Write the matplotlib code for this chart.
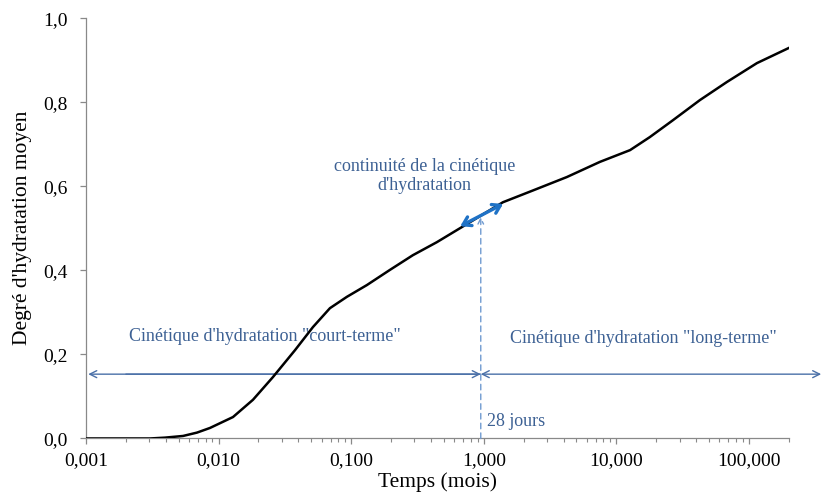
import matplotlib
matplotlib.use("Agg")
import matplotlib.pyplot as plt
from matplotlib.ticker import FixedLocator, FuncFormatter, LogLocator, NullFormatter

# courbe (temps en mois, degre d'hydratation)
temps = [0.001, 0.002, 0.00304, 0.00394, 0.0054, 0.00688, 0.00861, 0.01285, 0.01817,
         0.0257, 0.0377, 0.0515, 0.0692, 0.0929, 0.1315, 0.196, 0.292, 0.443,
         0.685, 1.396, 2.35, 4.24, 7.52, 12.7, 17.9, 26.7, 42.7, 68.2, 115.0, 200.0]
degre = [0.0, 0.0, 0.0, 0.002, 0.006, 0.014, 0.025, 0.051, 0.092,
         0.146, 0.210, 0.265, 0.310, 0.337, 0.365, 0.401, 0.436, 0.467,
         0.503, 0.562, 0.590, 0.622, 0.658, 0.686, 0.717, 0.757, 0.805, 0.848, 0.893, 0.929]

x_ticks = [0.001, 0.01, 0.1, 1, 10, 100]
y_ticks = [0.0, 0.2, 0.4, 0.6, 0.8, 1.0]

t_28j = 0.95          # 28 jours en mois
y_fleche = 0.153      # hauteur des fleches horizontales
y_pointe = 0.527      # sommet de la ligne pointillee
continuite = [(0.665, 0.505), (1.40, 0.558)]

txt_bleu = "#3d6194"
fl_bleu = "#4a70a8"
pt_bleu = "#6f9ad0"
vif_bleu = "#1f72c6"
gris = "#898989"

plt.rcParams['font.family'] = ['Liberation Serif', 'DejaVu Serif']

fig = plt.figure(figsize=(8.22, 5.01), dpi=100)
ax = fig.add_axes([0.1046, 0.1248, 0.855, 0.839])

ax.plot(temps, degre, color="black", lw=1.8, zorder=5, solid_joinstyle="round")

ax.set_xscale("log")
ax.set_xlim(0.001, 200)
ax.set_ylim(0, 1.0)

ax.xaxis.set_major_locator(FixedLocator(x_ticks))
ax.xaxis.set_major_formatter(FuncFormatter(lambda v, p: f"{v:.3f}".replace(".", ",")))
ax.xaxis.set_minor_locator(LogLocator(base=10, subs=range(2, 10)))
ax.xaxis.set_minor_formatter(NullFormatter())
ax.yaxis.set_major_locator(FixedLocator(y_ticks))
ax.yaxis.set_major_formatter(FuncFormatter(lambda v, p: f"{v:.1f}".replace(".", ",")))

for s in ["top", "right"]:
    ax.spines[s].set_visible(False)
for s in ["left", "bottom"]:
    ax.spines[s].set_color(gris)
    ax.spines[s].set_linewidth(0.9)

ax.tick_params(axis="both", which="major", direction="out", length=4, width=0.9,
               color=gris, labelsize=14, labelcolor="black")
ax.tick_params(axis="x", which="minor", direction="out", length=3, width=0.8, color=gris)
ax.tick_params(axis="x", which="major", pad=6)
ax.tick_params(axis="y", which="major", pad=9)

ax.set_xlabel("Temps (mois)", fontsize=15.5, labelpad=2)
ax.set_ylabel("Degré d'hydratation moyen", fontsize=15.5, labelpad=8)

# fleches horizontales
ax.annotate("", xy=(0.00104, y_fleche), xytext=(t_28j, y_fleche),
            arrowprops=dict(arrowstyle="->,head_length=0.5,head_width=0.25",
                            color=fl_bleu, lw=1.0, shrinkA=0, shrinkB=0))
ax.annotate("", xy=(t_28j, y_fleche), xytext=(0.002, y_fleche),
            arrowprops=dict(arrowstyle="->,head_length=0.5,head_width=0.25",
                            color=fl_bleu, lw=1.0, shrinkA=0, shrinkB=0))
ax.annotate("", xy=(0.999, y_fleche), xytext=(t_28j, y_fleche),
            xycoords=("figure fraction", "data"), textcoords="data",
            annotation_clip=False,
            arrowprops=dict(arrowstyle="<->,head_length=0.5,head_width=0.25",
                            color=fl_bleu, lw=1.0, shrinkA=0, shrinkB=0))

# ligne pointillee 28 jours
ax.annotate("", xy=(t_28j, y_pointe), xytext=(t_28j, 0),
            arrowprops=dict(arrowstyle="->,head_length=0.4,head_width=0.2",
                            color=pt_bleu, lw=1.0, linestyle=(0, (4, 3)),
                            shrinkA=0, shrinkB=0))

# continuite
ax.annotate("", xy=continuite[1], xytext=continuite[0],
            arrowprops=dict(arrowstyle="<->,head_length=0.55,head_width=0.35",
                            color=vif_bleu, lw=2.4, shrinkA=0, shrinkB=0), zorder=6)

ax.text(0.0224, 0.243, "Cinétique d'hydratation \"court-terme\"", color=txt_bleu,
        fontsize=13, ha="center", va="center")
ax.text(16.0, 0.238, "Cinétique d'hydratation \"long-terme\"", color=txt_bleu,
        fontsize=13, ha="center", va="center")
ax.text(1.05, 0.041, "28 jours", color=txt_bleu, fontsize=13, ha="left", va="center")
ax.text(0.357, 0.625, "continuité de la cinétique\nd'hydratation", color=txt_bleu,
        fontsize=13, ha="center", va="center", linespacing=1.15)

fig.savefig("out.png", dpi=100)
